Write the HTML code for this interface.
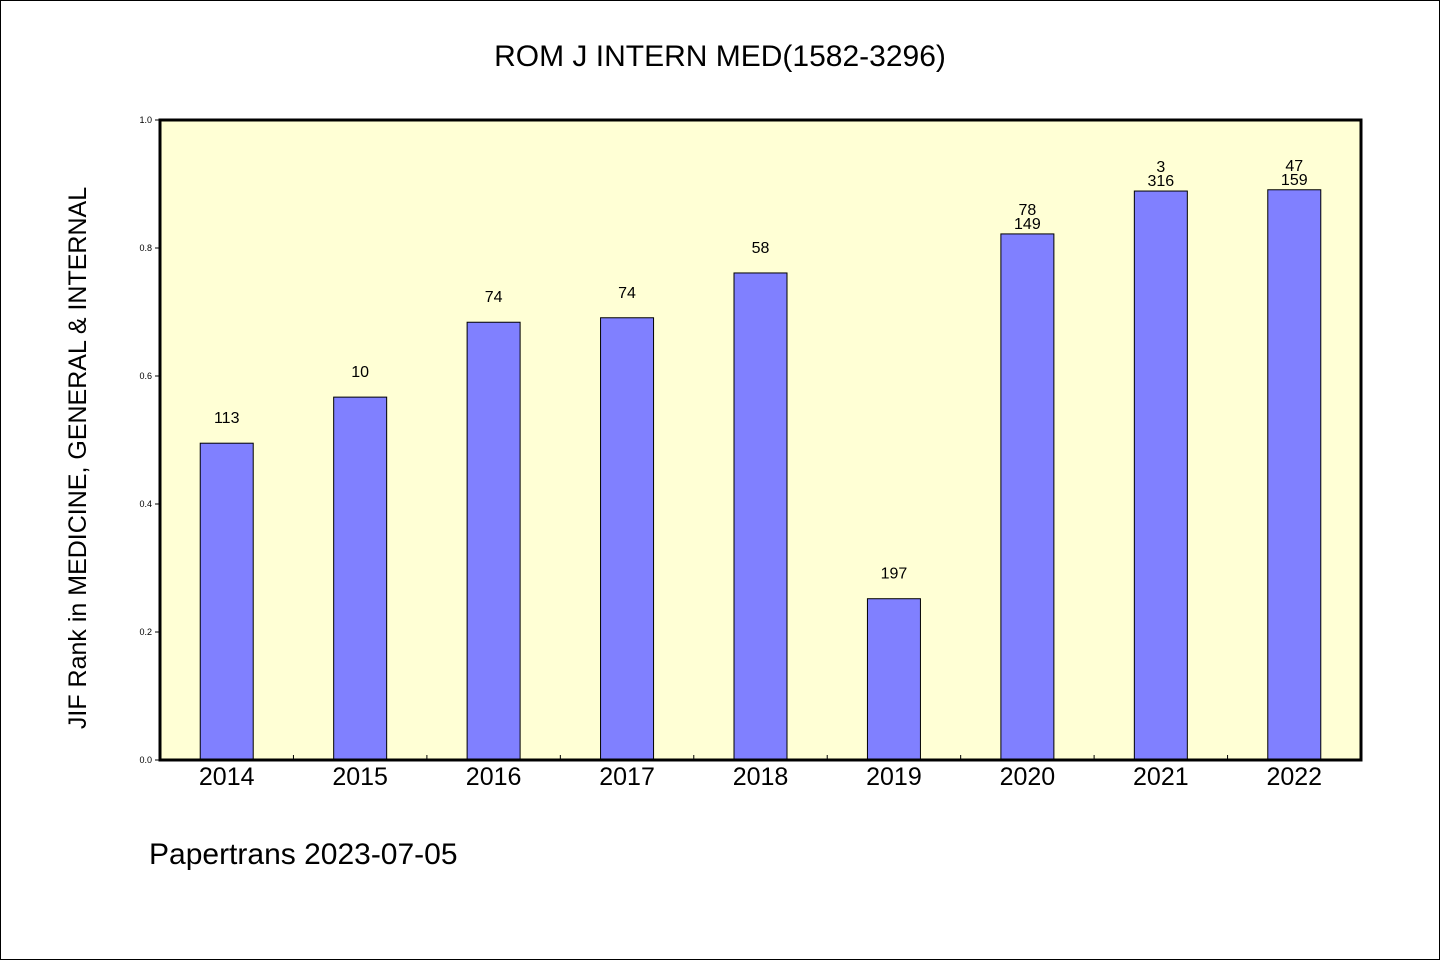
<!DOCTYPE html>
<html><head><meta charset="utf-8"><style>
html,body{margin:0;padding:0;background:#fff}
svg{display:block}
text{font-family:"WenQuanYi Zen Hei","Liberation Sans",sans-serif;fill:#000}
</style></head><body>
<svg id="chart" width="1440" height="960" viewBox="0 0 1440 960">
<rect x="0.5" y="0.5" width="1439" height="959" fill="#fff" stroke="#000"/>
<text x="720" y="66" font-size="30" text-anchor="middle">ROM J INTERN MED(1582-3296)</text>
<rect x="160" y="120" width="1201" height="640" fill="#ffffd5"/>
<g id="bars"></g>
<g id="yticks"></g>
<g id="xticks"></g>
<rect x="160" y="120" width="1201" height="640" fill="none" stroke="#000" stroke-width="3"/>
<text transform="translate(86,458) rotate(-90)" font-size="25" text-anchor="middle">JIF Rank in MEDICINE, GENERAL &amp; INTERNAL</text>
<text x="149" y="864" font-size="30">Papertrans 2023-07-05</text>
</svg>
<script>
const categories=["2014","2015","2016","2017","2018","2019","2020","2021","2022"];
const values=[0.495,0.567,0.684,0.691,0.761,0.252,0.822,0.889,0.891];
const labelTop=["","","","","","","78","3","47"];
const labelMain=["113","10","74","74","58","197","149","316","159"];
const yTicks=[0,0.2,0.4,0.6,0.8,1.0];
const X0=160,X1=1361,Y0=760,Y1=120;
const NS="http://www.w3.org/2000/svg";
const band=(X1-X0)/categories.length;
function xc(i){return X0+band*(i+0.5);}
function y(v){return Y0-(Y0-Y1)*v;}
function mk(tag,attrs,parent){const e=document.createElementNS(NS,tag);for(const k in attrs)e.setAttribute(k,attrs[k]);parent.appendChild(e);return e;}
const gb=document.getElementById('bars'),gy=document.getElementById('yticks'),gx=document.getElementById('xticks');
categories.forEach((c,i)=>{
 const bw=53,top=y(values[i]);
 const r=mk('rect',{x:xc(i)-bw/2,y:top,width:bw,height:Y0-top,fill:'#8080ff',stroke:'#000','stroke-width':1},gb);
 
 
 if(labelTop[i]){
  const t1=mk('text',{x:xc(i),y:top-19,'font-size':16,'text-anchor':'middle'},gb);t1.textContent=labelTop[i];
  
  
  const t2=mk('text',{x:xc(i),y:top-5,'font-size':16,'text-anchor':'middle'},gb);t2.textContent=labelMain[i];
  
  
 }else{
  const t=mk('text',{x:xc(i),y:top-20,'font-size':16,'text-anchor':'middle'},gb);t.textContent=labelMain[i];
  
  
 }
 const xl=mk('text',{x:xc(i),y:785,'font-size':25,'text-anchor':'middle'},gx);xl.textContent=c;
 
 
 if(i>0){const l=mk('line',{x1:X0+band*i,x2:X0+band*i,y1:Y0,y2:Y0-5,stroke:'#000'},gx);
 
 }
});
yTicks.forEach(v=>{
 const l=mk('line',{x1:155,x2:160,y1:y(v),y2:y(v),stroke:'#000'},gy);
 
 
 const t=mk('text',{x:152,y:y(v)+3,'font-size':9,'text-anchor':'end'},gy);t.textContent=v.toFixed(1);
 
 
});
</script>
</body></html>
